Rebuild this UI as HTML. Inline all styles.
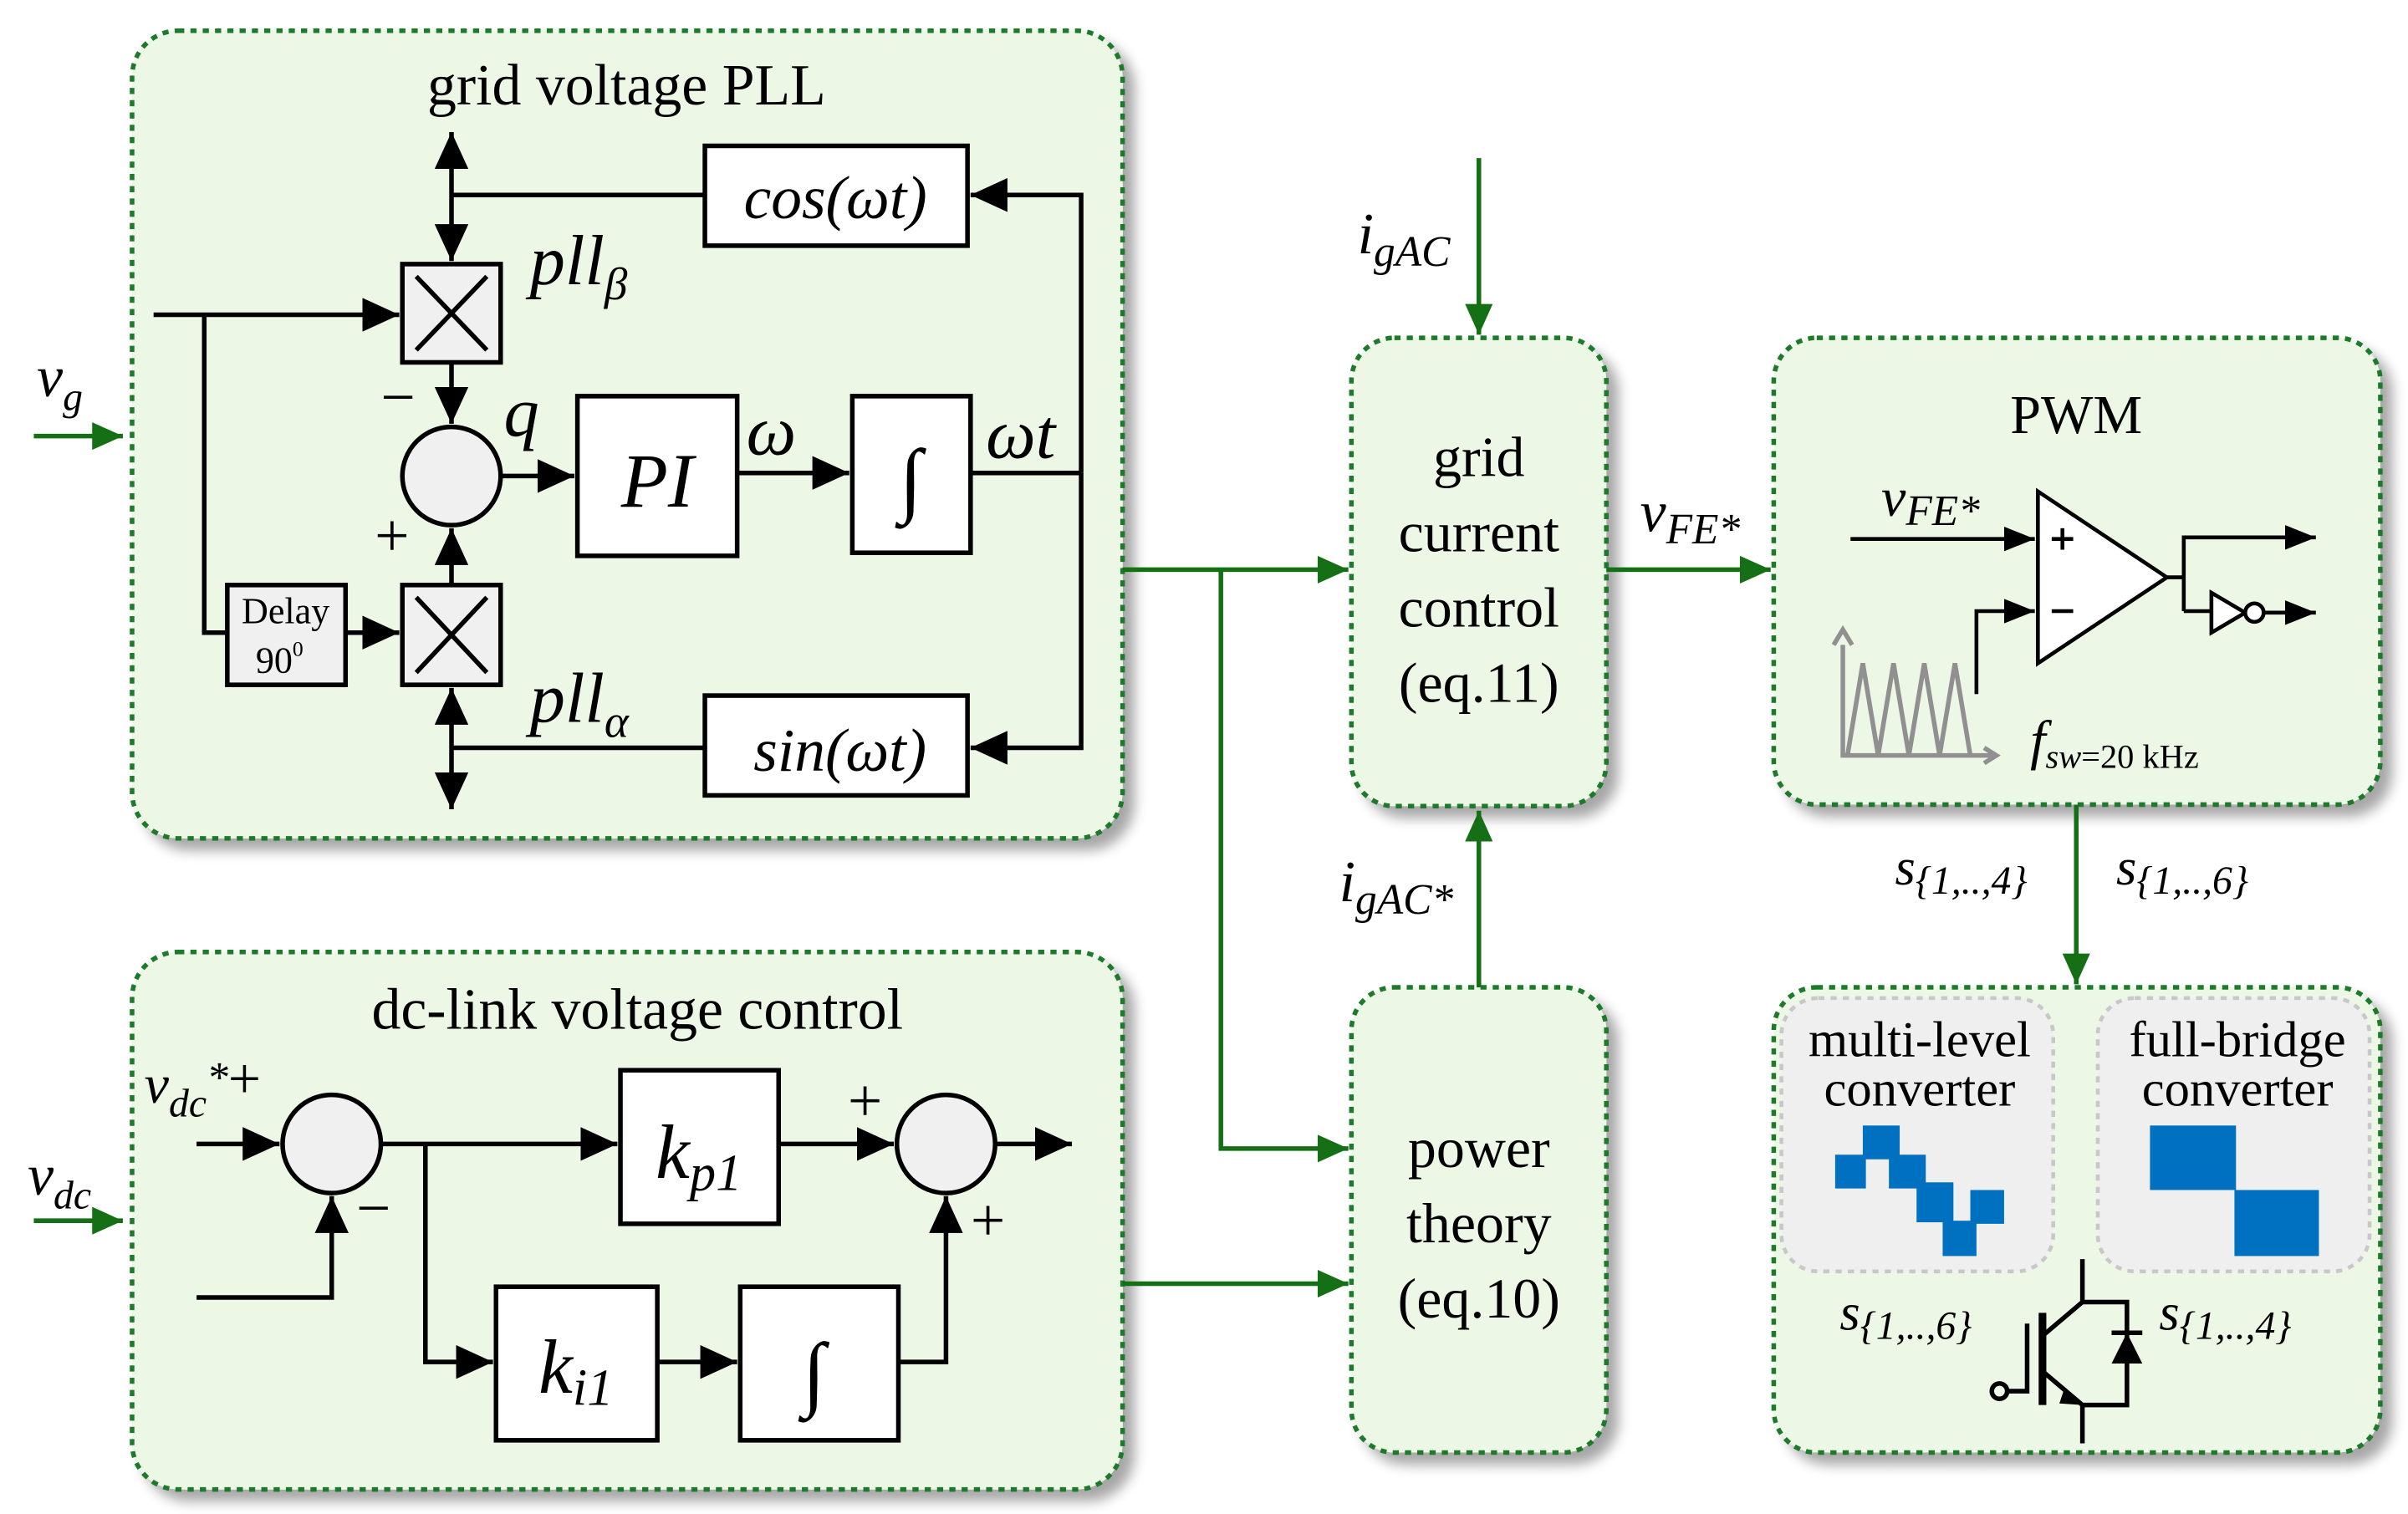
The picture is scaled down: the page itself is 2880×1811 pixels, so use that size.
<!DOCTYPE html>
<html><head><meta charset="utf-8"><style>html,body{margin:0;padding:0;background:#fff}svg{display:block}</style></head>
<body>
<svg width="2880" height="1811" viewBox="0 0 1568 986" xmlns="http://www.w3.org/2000/svg" font-family="'Liberation Serif', serif">
<defs>
<marker id="a" markerWidth="20" markerHeight="16" refX="20" refY="8" orient="auto" markerUnits="userSpaceOnUse"><path d="M0,0 L20,8 L0,16z" fill="#000"/></marker>
<marker id="ab" markerWidth="24" markerHeight="22" refX="24" refY="11" orient="auto-start-reverse" markerUnits="userSpaceOnUse"><path d="M0,0 L24,11 L0,22z" fill="#000"/></marker>
<marker id="ag" markerWidth="20" markerHeight="18" refX="20" refY="9" orient="auto" markerUnits="userSpaceOnUse"><path d="M0,0 L20,9 L0,18z" fill="#157015"/></marker>
<filter id="sh" x="-5%" y="-5%" width="115%" height="115%"><feGaussianBlur in="SourceAlpha" stdDeviation="4"/><feOffset dx="7" dy="7"/><feComponentTransfer><feFuncA type="linear" slope="0.35"/></feComponentTransfer><feMerge><feMergeNode/><feMergeNode in="SourceGraphic"/></feMerge></filter>
</defs>
<g fill="#edf7e6" stroke="#1d7a2a" stroke-width="3" stroke-dasharray="4,4" filter="url(#sh)">
<rect x="86" y="20" width="645" height="526" rx="30"/>
<rect x="86" y="620" width="645" height="350" rx="30"/>
<rect x="880" y="220" width="166" height="305" rx="28"/>
<rect x="880" y="643" width="166" height="303" rx="28"/>
<rect x="1155" y="220" width="395" height="304" rx="28"/>
<rect x="1155" y="643" width="395" height="303" rx="28"/>
</g>
<g fill="#efefef" stroke="#c8c8c8" stroke-width="2.5" stroke-dasharray="4,4">
<rect x="1160" y="650" width="177" height="178" rx="24"/>
<rect x="1366" y="650" width="177" height="178" rx="24"/>
</g>
<g stroke="#157015" stroke-width="3" fill="none">
<line x1="22" y1="284" x2="80" y2="284" marker-end="url(#ag)"/>
<line x1="22" y1="795" x2="80" y2="795" marker-end="url(#ag)"/>
<line x1="731" y1="371" x2="878" y2="371" marker-end="url(#ag)"/>
<polyline points="795,371 795,748 878,748" marker-end="url(#ag)"/>
<line x1="731" y1="836" x2="878" y2="836" marker-end="url(#ag)"/>
<line x1="963" y1="103" x2="963" y2="218" marker-end="url(#ag)"/>
<line x1="963" y1="643" x2="963" y2="528" marker-end="url(#ag)"/>
<line x1="1046" y1="371" x2="1153" y2="371" marker-end="url(#ag)"/>
<line x1="1352" y1="524" x2="1352" y2="641" marker-end="url(#ag)"/>
</g>
<g stroke="#000" stroke-width="3" fill="none">
<rect x="459" y="95" width="171" height="65" fill="#fff"/>
<rect x="459" y="453" width="171" height="65" fill="#fff"/>
<rect x="262" y="172" width="64" height="64" fill="#f0f0f0"/>
<rect x="262" y="381" width="64" height="65" fill="#f0f0f0"/>
<line x1="271" y1="180" x2="317" y2="228"/><line x1="317" y1="180" x2="271" y2="228"/>
<line x1="271" y1="389" x2="317" y2="438"/><line x1="317" y1="389" x2="271" y2="438"/>
<circle cx="294" cy="310" r="32" fill="#f0f0f0"/>
<rect x="376" y="258" width="104" height="104" fill="#fff"/>
<rect x="555" y="258" width="77" height="102" fill="#fff"/>
<rect x="148" y="381" width="77" height="65" fill="#f0f0f0"/>
<polyline points="632,308 704,308"/>
<polyline points="704,308 704,127 632,127" marker-end="url(#ab)"/>
<polyline points="704,308 704,487 632,487" marker-end="url(#ab)"/>
<line x1="100" y1="205" x2="260" y2="205" marker-end="url(#ab)"/>
<polyline points="133,205 133,412 148,412"/>
<line x1="225" y1="412" x2="260" y2="412" marker-end="url(#ab)"/>
<line x1="459" y1="127" x2="294" y2="127"/>
<line x1="294" y1="86" x2="294" y2="170" marker-start="url(#ab)" marker-end="url(#ab)"/>
<line x1="294" y1="236" x2="294" y2="276" marker-end="url(#ab)"/>
<line x1="294" y1="381" x2="294" y2="344" marker-end="url(#ab)"/>
<line x1="459" y1="487" x2="294" y2="487"/>
<line x1="294" y1="448" x2="294" y2="527" marker-start="url(#ab)" marker-end="url(#ab)"/>
<line x1="326" y1="310" x2="374" y2="310" marker-end="url(#ab)"/>
<line x1="480" y1="308" x2="553" y2="308" marker-end="url(#ab)"/>
</g>
<g font-size="34" fill="#000">
<text x="408" y="68" text-anchor="middle" font-size="38">grid voltage PLL</text>
<text x="544" y="142" text-anchor="middle" font-style="italic" font-size="40">cos(ωt)</text>
<text x="547" y="502" text-anchor="middle" font-style="italic" font-size="40">sin(ωt)</text>
<text x="428" y="330" text-anchor="middle" font-style="italic" font-size="50">PI</text>
<text x="593" y="330" text-anchor="middle" font-size="54">∫</text>
<text x="186" y="406" text-anchor="middle" font-size="24">Delay</text>
<text x="182" y="438" text-anchor="middle" font-size="24">90<tspan font-size="14" dy="-11">0</tspan></text>
<text x="345" y="185" font-style="italic" font-size="46">pll<tspan font-size="30" dy="10">β</tspan></text>
<text x="345" y="470" font-style="italic" font-size="46">pll<tspan font-size="30" dy="10">α</tspan></text>
<text x="328" y="284" font-style="italic" font-size="46">q</text>
<text x="248" y="272" font-size="40">−</text>
<text x="244" y="362" font-size="40">+</text>
<text x="486" y="296" font-style="italic" font-size="46">ω</text>
<text x="642" y="298" font-style="italic" font-size="46">ωt</text>
<text x="24" y="258" font-style="italic" font-size="38">v<tspan font-size="26" dy="9">g</tspan></text>
<text x="18" y="778" font-style="italic" font-size="38">v<tspan font-size="26" dy="9">dc</tspan></text>
</g>
<g stroke="#000" stroke-width="3" fill="none">
<circle cx="216" cy="745" r="32" fill="#f0f0f0"/>
<circle cx="616" cy="745" r="32" fill="#f0f0f0"/>
<rect x="404" y="697" width="103" height="100" fill="#fff"/>
<rect x="323" y="838" width="105" height="100" fill="#fff"/>
<rect x="482" y="838" width="103" height="100" fill="#fff"/>
<line x1="128" y1="745" x2="182" y2="745" marker-end="url(#ab)"/>
<polyline points="128,845 216,845 216,779" marker-end="url(#ab)"/>
<line x1="248" y1="745" x2="402" y2="745" marker-end="url(#ab)"/>
<line x1="507" y1="745" x2="582" y2="745" marker-end="url(#ab)"/>
<line x1="648" y1="745" x2="698" y2="745" marker-end="url(#ab)"/>
<polyline points="277,745 277,887 321,887" marker-end="url(#ab)"/>
<line x1="428" y1="887" x2="480" y2="887" marker-end="url(#ab)"/>
<polyline points="585,887 616,887 616,779" marker-end="url(#ab)"/>
</g>
<g font-size="34" fill="#000">
<text x="415" y="670" text-anchor="middle" font-size="38">dc-link voltage control</text>
<text x="455" y="767" text-anchor="middle" font-style="italic" font-size="50">k<tspan font-size="34" dy="8">p1</tspan></text>
<text x="375" y="907" text-anchor="middle" font-style="italic" font-size="50">k<tspan font-size="34" dy="8">i1</tspan></text>
<text x="530" y="912" text-anchor="middle" font-size="54">∫</text>
<text x="94" y="718" font-style="italic" font-size="36">v<tspan font-size="26" dy="9">dc</tspan><tspan font-size="28" dy="-16">*</tspan><tspan font-style="normal" font-size="38" dy="4">+</tspan></text>
<text x="232" y="800" font-size="40">−</text>
<text x="552" y="730" font-size="40">+</text>
<text x="632" y="808" font-size="40">+</text>
</g>
<g font-size="37" fill="#000" text-anchor="middle">
<text x="963" y="310">grid</text>
<text x="963" y="359">current</text>
<text x="963" y="408">control</text>
<text x="963" y="457">(eq.11)</text>
<text x="963" y="760">power</text>
<text x="963" y="809">theory</text>
<text x="963" y="858">(eq.10)</text>
</g>
<g font-size="38" fill="#000" font-style="italic">
<text x="884" y="165">i<tspan font-size="28" dy="8">gAC</tspan></text>
<text x="872" y="587">i<tspan font-size="28" dy="8">gAC*</tspan></text>
<text x="1068" y="346">v<tspan font-size="28" dy="8">FE*</tspan></text>
<text x="1234" y="576" font-size="34">s<tspan font-size="26" dy="6">{1,..,4}</tspan></text>
<text x="1378" y="576" font-size="34">s<tspan font-size="26" dy="6">{1,..,6}</tspan></text>
<text x="1198" y="866" font-size="34">s<tspan font-size="26" dy="6">{1,..,6}</tspan></text>
<text x="1406" y="866" font-size="34">s<tspan font-size="26" dy="6">{1,..,4}</tspan></text>
</g>
<text x="1352" y="282" font-size="36" text-anchor="middle">PWM</text>
<text x="1225" y="336" font-size="36" font-style="italic">v<tspan font-size="28" dy="6">FE*</tspan></text>
<g stroke="#000" stroke-width="2.5" fill="none">
<polygon points="1327,320 1327,432 1411,376" fill="#fff"/>
<line x1="1205" y1="351" x2="1325" y2="351" marker-end="url(#a)"/>
<polyline points="1287,452 1287,398 1325,398" marker-end="url(#a)"/>
<polyline points="1411,376 1422,376"/>
<polyline points="1422,398 1422,350 1508,350" marker-end="url(#a)"/>
<polyline points="1422,398 1440,398"/>
<polygon points="1440,386 1440,412 1462,399" fill="#fff"/>
<circle cx="1468" cy="399" r="6" fill="#fff"/>
<line x1="1474" y1="399" x2="1508" y2="399" marker-end="url(#a)"/>
<line x1="1336" y1="351" x2="1350" y2="351"/><line x1="1343" y1="344" x2="1343" y2="358"/>
<line x1="1336" y1="398" x2="1350" y2="398"/>
</g>
<g stroke="#909090" stroke-width="3" fill="none">
<polyline points="1200,420 1200,492 1298,492"/>
<polyline points="1194,420 1200,410 1206,420"/>
<polyline points="1292,487 1300,492 1292,497"/>
<polyline points="1203,492 1213,432 1223,492 1233,432 1243,492 1253,432 1263,492 1273,432 1283,492"/>
</g>
<text x="1322" y="494" font-size="36" font-style="italic">f<tspan font-size="22" dy="6">sw</tspan><tspan font-size="22" font-style="normal">=20 kHz</tspan></text>
<g font-size="33" text-anchor="middle" fill="#000">
<text x="1250" y="688">multi-level</text>
<text x="1250" y="720">converter</text>
<text x="1457" y="688">full-bridge</text>
<text x="1457" y="720">converter</text>
</g>
<g fill="#0070c0">
<rect x="1195" y="752" width="20" height="22"/>
<rect x="1213" y="733" width="24" height="22"/>
<rect x="1230" y="752" width="24" height="22"/>
<rect x="1248" y="770" width="24" height="26"/>
<rect x="1265" y="795" width="22" height="23"/>
<rect x="1283" y="775" width="22" height="22"/>
<rect x="1400" y="733" width="56" height="42"/>
<rect x="1455" y="775" width="55" height="43"/>
</g>
<g stroke="#000" stroke-width="3" fill="none">
<circle cx="1302" cy="906" r="5"/>
<polyline points="1307,906 1320,906 1320,862"/>
<line x1="1330" y1="855" x2="1330" y2="915" stroke-width="5"/>
<polyline points="1330,870 1356,848 1356,820"/>
<polyline points="1330,893 1356,915 1356,940"/>
<polyline points="1356,848 1385,848 1385,915 1356,915"/>
<line x1="1375" y1="868" x2="1395" y2="868"/>
</g>
<polygon points="1344,905 1356,915 1341,914" fill="#000"/>
<polygon points="1375,888 1395,888 1385,868" fill="#000"/>
</svg>
</body></html>
